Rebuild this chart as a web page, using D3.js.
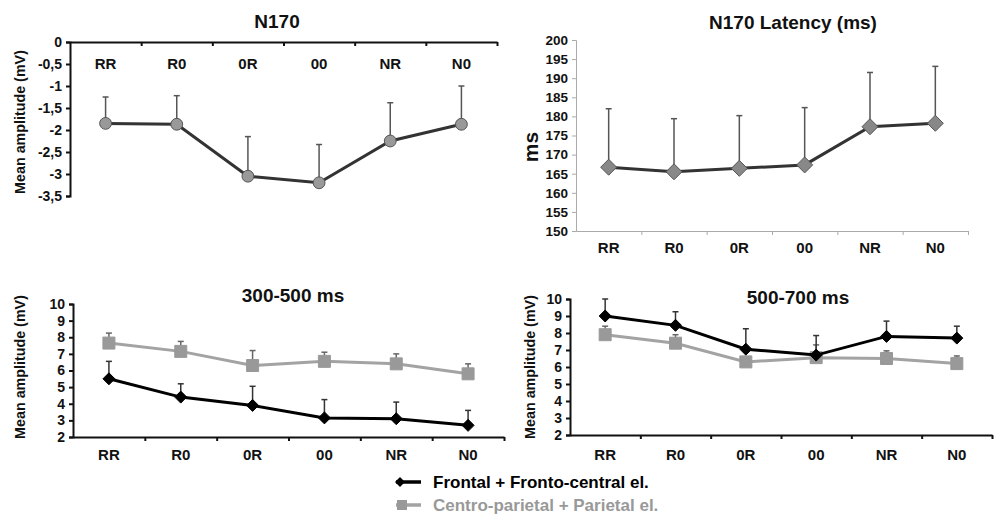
<!DOCTYPE html>
<html>
<head>
<meta charset="utf-8">
<script src="https://cdnjs.cloudflare.com/ajax/libs/d3/7.9.0/d3.min.js"></script>
<style>
  html, body { margin: 0; padding: 0; background: #fff; }
  svg { display: block; font-family: "Liberation Sans", Arial, sans-serif; font-weight: bold; }
</style>
</head>
<body>
<svg id="chart" width="997" height="515"></svg>
<script>
// conditions
const categories = ['RR', 'R0', '0R', '00', 'NR', 'N0'];

// N170 amplitude (mV) and upward error
const n170Amp = [-1.85, -1.87, -3.05, -3.2, -2.25, -1.87];
const n170AmpErr = [0.6, 0.65, 0.9, 0.87, 0.87, 0.87];

// N170 latency (ms)
const n170Lat = [166.7, 165.5, 166.4, 167.3, 177.3, 178.2];
const n170LatErr = [15.3, 13.9, 13.8, 15.0, 14.2, 14.9];

// 300-500 ms window
const frontal300 = [5.5, 4.4, 3.9, 3.15, 3.1, 2.7];
const frontal300Err = [1.05, 0.8, 1.15, 1.1, 1.0, 0.9];
const parietal300 = [7.65, 7.15, 6.3, 6.55, 6.4, 5.8];
const parietal300Err = [0.6, 0.6, 0.9, 0.55, 0.6, 0.6];

// 500-700 ms window
const frontal500 = [9.0, 8.45, 7.05, 6.7, 7.8, 7.7];
const frontal500Err = [1.0, 0.8, 1.2, 1.15, 0.9, 0.7];
const parietal500 = [7.9, 7.4, 6.3, 6.55, 6.5, 6.2];
const parietal500Err = [0.5, 0.5, 0.3, 0.75, 0.45, 0.45];

const legendLabels = ['Frontal + Fronto-central el.', 'Centro-parietal + Parietal el.'];

const BLACK = '#000';
const GRAY = '#a3a3a3';

const svg = d3.select('#chart');

function panel(cfg) {
  const g = svg.append('g');
  const x = d3.scaleBand().domain(categories).range([cfg.x0, cfg.x1]).padding(0);
  const xb = d3.scaleLinear().domain([0, categories.length]).range([cfg.x0, cfg.x1]);
  const y = d3.scaleLinear().domain(cfg.yDomain).range([cfg.yB, cfg.yT]);

  // y axis
  const ya = g.append('g').attr('transform', `translate(${cfg.x0},0)`)
    .call(d3.axisLeft(y).tickValues(cfg.yTicks).tickSize(4).tickPadding(4)
      .tickFormat(cfg.yFormat));
  ya.selectAll('path,line').attr('stroke', cfg.axisColor).attr('stroke-width', cfg.axisW);
  ya.selectAll('text').attr('font-size', cfg.tickSize || 14).attr('font-weight', 'bold').attr('fill', '#111')
    .attr('font-family', '"Liberation Sans", Arial, sans-serif');

  // x axis (boundary ticks)
  const axY = cfg.xAxisAtTop ? cfg.yT : cfg.yB;
  const xa = g.append('g').attr('transform', `translate(0,${axY})`)
    .call(d3.axisBottom(xb).tickValues(d3.range(1, categories.length + 1)).tickSize(4).tickSizeOuter(0).tickFormat(''));
  xa.selectAll('path,line').attr('stroke', cfg.axisColor).attr('stroke-width', cfg.axisW);

  // category labels
  g.append('g').selectAll('text').data(categories).join('text')
    .attr('x', d => x(d) + x.bandwidth() / 2)
    .attr('y', cfg.labelY)
    .attr('dy', '0.35em')
    .attr('text-anchor', 'middle')
    .attr('font-size', 15).attr('fill', '#111')
    .text(d => d);

  // title
  g.append('text').attr('x', cfg.titleX).attr('y', cfg.titleY).attr('dy', '0.35em')
    .attr('text-anchor', 'middle').attr('font-size', 19).attr('fill', '#111').text(cfg.title);

  // y label
  g.append('text')
    .attr('transform', `translate(${cfg.yLabelX},${cfg.yLabelY}) rotate(-90)`)
    .attr('text-anchor', 'middle').attr('dy', '0.35em')
    .attr('font-size', cfg.yLabelSize).attr('fill', '#111').text(cfg.yLabel);

  const cx = d => x(d) + x.bandwidth() / 2;

  cfg.series.forEach(s => {
    const sg = g.append('g');
    // error bars
    sg.selectAll('line.err').data(categories).join('line')
      .attr('x1', cx).attr('x2', cx)
      .attr('y1', (d, i) => y(s.values[i]))
      .attr('y2', (d, i) => y(s.values[i] + s.err[i]))
      .attr('stroke', s.errColor).attr('stroke-width', 1.5);
    sg.selectAll('line.cap').data(categories).join('line')
      .attr('x1', d => cx(d) - 3).attr('x2', d => cx(d) + 3)
      .attr('y1', (d, i) => y(s.values[i] + s.err[i]))
      .attr('y2', (d, i) => y(s.values[i] + s.err[i]))
      .attr('stroke', s.errColor).attr('stroke-width', 1.5);
    // line
    sg.append('path')
      .datum(s.values)
      .attr('d', d3.line().x((d, i) => cx(categories[i])).y(d => y(d)))
      .attr('fill', 'none').attr('stroke', s.lineColor).attr('stroke-width', 3);
    // markers
    sg.selectAll('path.m').data(s.values).join('path')
      .attr('transform', (d, i) => `translate(${cx(categories[i])},${y(d)})`)
      .attr('d', d3.symbol().type(s.symbol).size(s.symSize))
      .attr('fill', s.fill).attr('stroke', s.stroke).attr('stroke-width', 1);
  });
}

const diamond = {
  draw(ctx, size) {
    const r = Math.sqrt(size) / 2;
    ctx.moveTo(0, -r); ctx.lineTo(r, 0); ctx.lineTo(0, r); ctx.lineTo(-r, 0); ctx.closePath();
  }
};

const commaFmt = d => String(d).replace('.', ',');

// N170 amplitude
panel({
  x0: 70, x1: 497, yT: 42, yB: 196, yDomain: [-3.5, 0],
  yTicks: d3.range(-3.5, 0.01, 0.5), yFormat: commaFmt,
  axisColor: '#111', axisW: 2, xAxisAtTop: true, labelY: 64,
  title: 'N170', titleX: 277, titleY: 21,
  yLabel: 'Mean amplitude (mV)', yLabelX: 20, yLabelY: 122, yLabelSize: 14.3,
  series: [{ values: n170Amp, err: n170AmpErr, lineColor: '#333', errColor: '#555',
    symbol: d3.symbolCircle, symSize: 110, fill: '#999', stroke: '#555' }]
});

// N170 latency
panel({
  x0: 576, x1: 968, yT: 40, yB: 231, yDomain: [150, 200],
  yTicks: d3.range(150, 201, 5), yFormat: d => d, tickSize: 13.5,
  axisColor: '#aaa', axisW: 1, xAxisAtTop: false, labelY: 248,
  title: 'N170 Latency (ms)', titleX: 793, titleY: 22,
  yLabel: 'ms', yLabelX: 531, yLabelY: 147, yLabelSize: 21,
  series: [{ values: n170Lat, err: n170LatErr, lineColor: '#333', errColor: '#555',
    symbol: diamond, symSize: 256, fill: '#888', stroke: '#555' }]
});

// 300-500 ms
panel({
  x0: 73, x1: 504, yT: 304, yB: 437, yDomain: [2, 10],
  yTicks: d3.range(2, 11, 1), yFormat: d => d,
  axisColor: '#111', axisW: 2, xAxisAtTop: false, labelY: 455,
  title: '300-500 ms', titleX: 293, titleY: 295,
  yLabel: 'Mean amplitude (mV)', yLabelX: 20, yLabelY: 367, yLabelSize: 14.3,
  series: [
    { values: parietal300, err: parietal300Err, lineColor: GRAY, errColor: '#666',
      symbol: d3.symbolSquare, symSize: 144, fill: '#999', stroke: '#999' },
    { values: frontal300, err: frontal300Err, lineColor: BLACK, errColor: '#333',
      symbol: diamond, symSize: 144, fill: '#000', stroke: '#000' }
  ]
});

// 500-700 ms
panel({
  x0: 570, x1: 992, yT: 299, yB: 435, yDomain: [2, 10],
  yTicks: d3.range(2, 11, 1), yFormat: d => d,
  axisColor: '#111', axisW: 2, xAxisAtTop: false, labelY: 455,
  title: '500-700 ms', titleX: 798, titleY: 297,
  yLabel: 'Mean amplitude (mV)', yLabelX: 530, yLabelY: 367, yLabelSize: 14.3,
  series: [
    { values: parietal500, err: parietal500Err, lineColor: GRAY, errColor: '#666',
      symbol: d3.symbolSquare, symSize: 144, fill: '#999', stroke: '#999' },
    { values: frontal500, err: frontal500Err, lineColor: BLACK, errColor: '#333',
      symbol: diamond, symSize: 144, fill: '#000', stroke: '#000' }
  ]
});

// legend
const legend = svg.append('g');
const legendItems = [
  { label: legendLabels[0], color: '#000', textColor: '#000', symbol: diamond, y: 482 },
  { label: legendLabels[1], color: GRAY, textColor: '#999', symbol: d3.symbolSquare, y: 505 }
];
legendItems.forEach(it => {
  legend.append('line').attr('x1', 396).attr('x2', 421).attr('y1', it.y).attr('y2', it.y)
    .attr('stroke', it.color).attr('stroke-width', 3.5);
  legend.append('path').attr('transform', `translate(${it.symbol === diamond ? 400 : 402},${it.y})`)
    .attr('d', d3.symbol().type(it.symbol).size(100))
    .attr('fill', it.symbol === diamond ? '#000' : '#999');
  legend.append('text').attr('x', 433).attr('y', it.y).attr('dy', '0.35em')
    .attr('font-size', 17).attr('fill', it.textColor).text(it.label);
});
</script>
</body>
</html>
